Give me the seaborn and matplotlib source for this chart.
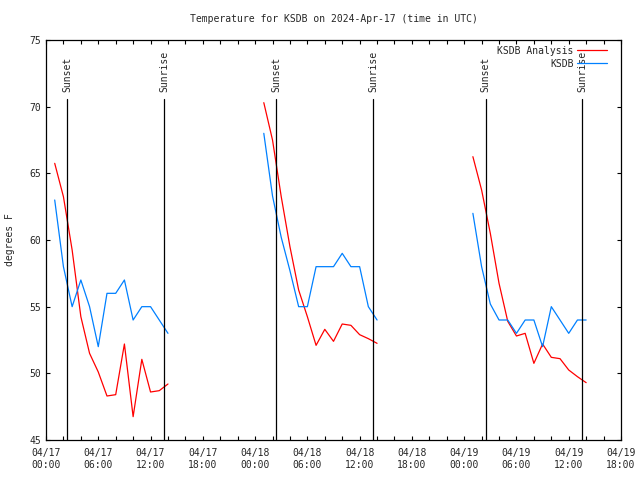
import pandas as pd
import seaborn as sns
import matplotlib
matplotlib.use('Agg')
import matplotlib.pyplot as plt
import matplotlib.dates as mdates
from matplotlib.lines import Line2D

# hourly values, 01:00 - 14:00 UTC on each day
days = ['2024-04-17', '2024-04-18', '2024-04-19']
hours = list(range(1, 15))

analysis_d1 = [65.75, 63.25, 59.25, 54.25, 51.5, 50.1, 48.3, 48.4, 52.2, 46.75, 51.05, 48.6, 48.7, 49.2]
analysis_d2 = [70.3, 67.5, 63.25, 59.5, 56.25, 54.25, 52.1, 53.3, 52.4, 53.7, 53.6, 52.9, 52.6, 52.25]
analysis_d3 = [66.25, 63.75, 60.5, 56.75, 53.9, 52.8, 53.0, 50.75, 52.2, 51.2, 51.1, 50.25, 49.75, 49.3]

obs_d1 = [63, 58, 55, 57, 55, 52, 56, 56, 57, 54, 55, 55, 54, 53]
obs_d2 = [68, 63.3, 60.2, 57.7, 55, 55, 58, 58, 58, 59, 58, 58, 55, 54]
obs_d3 = [62, 58, 55.2, 54, 54, 53, 54, 54, 52, 55, 54, 53, 54, 54]

sunset_times = ['2024-04-17 02:25', '2024-04-18 02:26', '2024-04-19 02:28']
sunrise_times = ['2024-04-17 13:34', '2024-04-18 13:33', '2024-04-19 13:31']

series_names = ['KSDB Analysis', 'KSDB']
colors = {'KSDB Analysis': '#ff0000', 'KSDB': '#0080ff'}

# build long table
rows = []
for day, a, o in zip(days, [analysis_d1, analysis_d2, analysis_d3], [obs_d1, obs_d2, obs_d3]):
    for h, va, vo in zip(hours, a, o):
        t = pd.Timestamp(day) + pd.Timedelta(hours=h)
        rows.append({'time': t, 'temp': va, 'series': 'KSDB Analysis', 'day': day})
        rows.append({'time': t, 'temp': vo, 'series': 'KSDB', 'day': day})
df = pd.DataFrame(rows)

sns.set_style('ticks')
plt.rcParams['font.family'] = ['DejaVu Sans Mono']
plt.rcParams['font.size'] = 7

fig = plt.figure(figsize=(6.4, 4.8), dpi=100)
ax = fig.add_axes([46 / 640, 40 / 480, 575 / 640, 400 / 480])

sns.lineplot(data=df, x='time', y='temp', hue='series', units='day', estimator=None,
             palette=colors, linewidth=0.9, legend=False, ax=ax)

# sunset / sunrise markers
for ts, label in [(t, 'Sunset') for t in sunset_times] + [(t, 'Sunrise') for t in sunrise_times]:
    x = pd.Timestamp(ts)
    ax.plot([x, x], [45, 70.55], color='black', linewidth=0.9)
    ax.text(x, 71.1, label, rotation=90, ha='center', va='bottom', fontsize=7)

ax.set_xlim(pd.Timestamp('2024-04-17 00:00'), pd.Timestamp('2024-04-19 18:00'))
ax.set_ylim(45, 75)
ax.set_yticks(range(45, 76, 5))
ax.xaxis.set_major_locator(mdates.HourLocator(byhour=[0, 6, 12, 18]))
ax.xaxis.set_minor_locator(mdates.HourLocator(interval=2))
ax.xaxis.set_major_formatter(mdates.DateFormatter('%m/%d\n%H:%M'))
ax.tick_params(which='both', direction='in', top=True, right=True, length=3, width=0.8,
               labelsize=7, color='black')
ax.tick_params(axis='x', pad=6)
for s in ax.spines.values():
    s.set_linewidth(0.9)
    s.set_color('black')

ax.set_xlabel('')
ax.set_ylabel('degrees F', fontsize=7, labelpad=10)
ax.set_title('Temperature for KSDB on 2024-Apr-17 (time in UTC)', fontsize=7, pad=13)

handles = [Line2D([], [], color=colors[n], linewidth=0.9) for n in series_names]
ax.legend(handles, series_names, loc='upper right', frameon=False, markerfirst=False,
          fontsize=7, handlelength=3, handletextpad=0.4, labelspacing=0.3,
          borderaxespad=0.2, bbox_to_anchor=(0.985, 1.0))

fig.savefig('out.png', dpi=100)
